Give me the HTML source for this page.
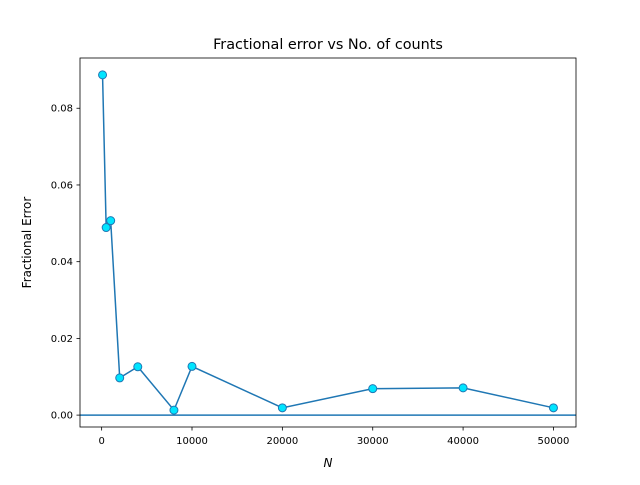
<!DOCTYPE html>
<html><head><meta charset="utf-8"><style>
body{margin:0;background:#fff;}
svg text{font-family:"DejaVu Sans","Liberation Sans",sans-serif;fill:#000;}
</style></head><body>
<svg id="chart" width="640" height="480" xmlns="http://www.w3.org/2000/svg">
<rect width="640" height="480" fill="#fff"/>
<text x="328" y="49" font-size="14.4" text-anchor="middle">Fractional error vs No. of counts</text>
<text x="328" y="467" font-size="12" text-anchor="middle" font-style="italic">N</text>
<text transform="translate(31,242.5) rotate(-90)" font-size="12" text-anchor="middle">Fractional Error</text>
<g id="ticks"></g>
<g id="marks"></g>
<rect x="80" y="58" width="496" height="369" fill="none" stroke="#000" stroke-width="0.8"/>
</svg>
<script>
const nValues=[100,500,1000,2000,4000,8000,10000,20000,30000,40000,50000];
const errValues=[0.0887,0.0489,0.0507,0.0097,0.0126,0.0013,0.0127,0.0019,0.0069,0.0071,0.0019];
const xTicks=[0,10000,20000,30000,40000,50000];
const yTicks=[0,0.02,0.04,0.06,0.08];
const L=80,R=576,T=58,B=427;
const xMin=-2395,xMax=52495,yMin=-0.0031,yMax=0.0931;
const xs=v=>L+(v-xMin)/(xMax-xMin)*(R-L);
const ys=v=>B-(v-yMin)/(yMax-yMin)*(B-T);
const NS="http://www.w3.org/2000/svg";
const tg=document.getElementById('ticks'),mg=document.getElementById('marks');
function mk(tag,attrs,parent){const e=document.createElementNS(NS,tag);for(const k in attrs)e.setAttribute(k,attrs[k]);parent.appendChild(e);return e;}
xTicks.forEach(v=>{const x=xs(v);
const l=mk('line',{x1:x,x2:x,y1:B,y2:B+3.5,stroke:'#000','stroke-width':0.8},tg);


const t=mk('text',{x:x,y:B+17,'font-size':10,'text-anchor':'middle'},tg);t.textContent=String(v);

});
yTicks.forEach(v=>{const y=ys(v);
const l=mk('line',{x1:L-3.5,x2:L,y1:y,y2:y,stroke:'#000','stroke-width':0.8},tg);


const t=mk('text',{x:L-7,y:y+3.5,'font-size':10,'text-anchor':'end'},tg);t.textContent=v.toFixed(2);

});
const h=mk('line',{x1:L,x2:R,y1:ys(0),y2:ys(0),stroke:'#1f77b4','stroke-width':1.5},mg);


const p=mk('polyline',{points:nValues.map((n,i)=>xs(n)+','+ys(errValues[i])).join(' '),fill:'none',stroke:'#1f77b4','stroke-width':1.5},mg);


nValues.forEach((n,i)=>{const c=mk('circle',{cx:xs(n),cy:ys(errValues[i]),r:4,fill:'#00e5ff',stroke:'#1f77b4','stroke-width':1},mg);

});
</script>
</body></html>
